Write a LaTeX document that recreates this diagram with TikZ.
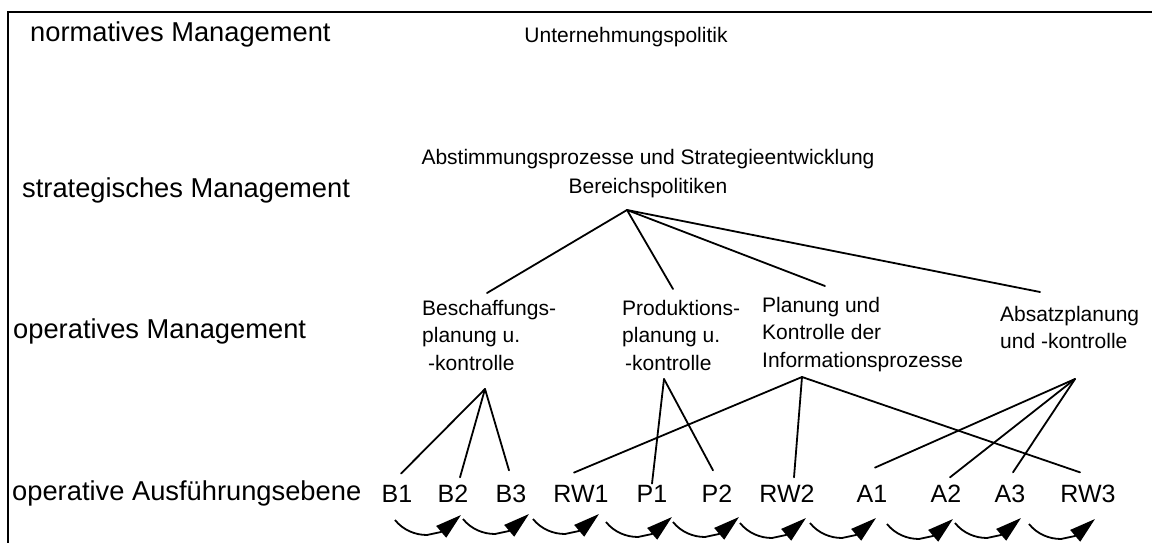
\documentclass[tikz,border=0pt]{standalone}
\usepackage{fontspec}
\setmainfont{Liberation Sans}
\usetikzlibrary{arrows.meta}
\tikzset{
  level/.style={anchor=base west, inner sep=0pt, font=\fontsize{27.3}{32}\selectfont},
  head/.style={anchor=base, inner sep=0pt, font=\fontsize{21}{29}\selectfont},
  func/.style={anchor=north west, inner sep=0pt, align=left, font=\fontsize{21}{27.5}\selectfont},
  unit/.style={anchor=base, inner sep=0pt, font=\fontsize{25}{30}\selectfont},
  link/.style={line width=1.8pt, line cap=round},
  frame/.style={line width=1.2pt},
  flow/.pic={\draw[line width=1.8pt, line join=round, -{Triangle[length=26pt,width=15pt]}]
    (0,0) .. controls (8,10) and (20,15) .. (32,15) -- (46,12) -- (66,-5);}
}
\begin{document}
\begin{tikzpicture}[x=1pt,y=-1pt]
\useasboundingbox (0,0) rectangle (1152,543);
% outer frame (left and top edge)
\draw[frame] (8,543) -- (8,12) -- (1152,12);

% management levels
\node[level] (norm)  at (30,42)  {normatives Management};
\node[level] (strat) at (22,197) {strategisches Management};
\node[level] (oper)  at (13,338) {operatives Management};
\node[level] (ausf)  at (12,500) {operative Ausführungsebene};

% normative and strategic contents
\node[head] (politik) at (626,43)  {Unternehmungspolitik};
\node[head] (abst)    at (648,164) {Abstimmungsprozesse und Strategieentwicklung};
\node[head] (bereich) at (648,193) {Bereichspolitiken};

% operative functions
\node[func] (besch)  at (422,300)  {Beschaffungs-\\planung u.\\\hspace*{6pt}-kontrolle};
\node[func] (prod)   at (622,300)  {Produktions-\\planung u.\\\hspace*{3pt}-kontrolle};
\node[func] (plan)   at (762,297)  {Planung und\\Kontrolle der\\Informationsprozesse};
\node[func] (absatz) at (1000,306) {Absatzplanung\\und -kontrolle};

% executing units
\node[unit] (B1)  at (397,502)  {B1};
\node[unit] (B2)  at (453,502)  {B2};
\node[unit] (B3)  at (511,502)  {B3};
\node[unit] (RW1) at (581,502)  {RW1};
\node[unit] (P1)  at (652,502)  {P1};
\node[unit] (P2)  at (717,502)  {P2};
\node[unit] (RW2) at (787,502)  {RW2};
\node[unit] (A1)  at (872,502)  {A1};
\node[unit] (A2)  at (946,502)  {A2};
\node[unit] (A3)  at (1010,502) {A3};
\node[unit] (RW3) at (1088,502) {RW3};

% branching points
\coordinate (top)   at (627,210);
\coordinate (jB)    at (485,389);
\coordinate (jP)    at (664,379);
\coordinate (jI)    at (802,377);
\coordinate (jA)    at (1075,379);

% strategic level to functions
\draw[link] (top) -- ([xshift=65pt,yshift=7pt]besch.north west);
\draw[link] (top) -- ([xshift=51pt,yshift=11pt]prod.north west);
\draw[link] (top) -- ([xshift=63pt,yshift=11pt]plan.north west);
\draw[link] (top) -- ([xshift=40pt,yshift=14pt]absatz.north west);

% functions to units
\draw[link] (jB) -- ([xshift=4pt,yshift=11pt]B1.north);
\draw[link] (jB) -- ([xshift=7pt,yshift=7pt]B2.north);
\draw[link] (jB) -- ([xshift=-2pt,yshift=14pt]B3.north);
\draw[link] (jP) -- ([xshift=0pt,yshift=1pt]P1.north);
\draw[link] (jP) -- ([xshift=-4pt,yshift=14pt]P2.north);
\draw[link] (jI) -- ([xshift=-7pt,yshift=12pt]RW1.north);
\draw[link] (jI) -- ([xshift=7pt,yshift=7pt]RW2.north);
\draw[link] (jI) -- ([xshift=-8pt,yshift=12pt]RW3.north);
\draw[link] (jA) -- ([xshift=3pt,yshift=17pt]A1.north);
\draw[link] (jA) -- ([xshift=4pt,yshift=7pt]A2.north);
\draw[link] (jA) -- ([xshift=3pt,yshift=12pt]A3.north);

% flow between neighbouring units
\foreach \sx/\sy in {395/520, 463/519, 533/519, 606/522, 673/522,
                     740/523, 810/523, 887/524, 955/523, 1029/524}
  \pic at (\sx,\sy) {flow};
\end{tikzpicture}
\end{document}
